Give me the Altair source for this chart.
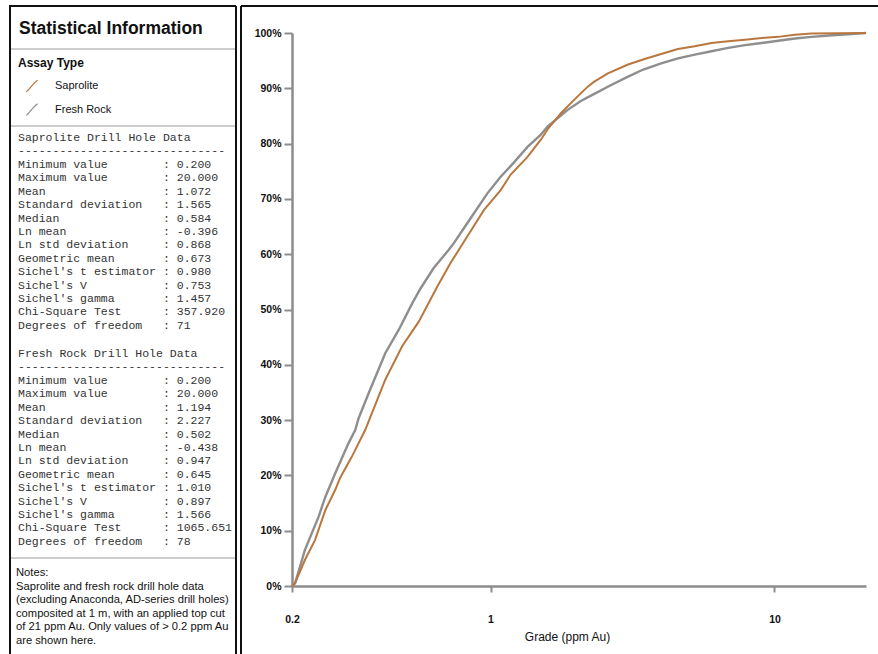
import altair as alt
import pandas as pd

# ---------------- data ----------------
sap_grade = [0.2, 0.205, 0.222, 0.241, 0.262, 0.284, 0.295, 0.325, 0.362, 0.426, 0.488, 0.559,
             0.649, 0.723, 0.774, 0.828, 0.949, 1.086, 1.178, 1.35, 1.504, 1.59, 1.77, 1.97,
             2.2, 2.32, 2.59, 3.05, 3.49, 3.99, 4.57, 5.24, 6.0, 6.87, 7.87, 9.02, 10.3, 11.8,
             13.5, 21.0]
sap_cum = [0, 0.5, 4.7, 8.3, 13.7, 17.4, 19.5, 23.4, 28.2, 37.3, 43.3, 47.8,
           54.1, 58.4, 60.8, 63.2, 68.0, 71.6, 74.4, 77.6, 80.7, 82.6, 85.5, 87.9,
           90.3, 91.2, 92.7, 94.3, 95.3, 96.2, 97.1, 97.6, 98.2, 98.5, 98.8, 99.1, 99.3, 99.7,
           99.9, 100.0]

fr_grade = [0.2, 0.205, 0.222, 0.248, 0.262, 0.284, 0.316, 0.334, 0.343, 0.372, 0.426, 0.475,
            0.53, 0.567, 0.631, 0.713, 0.743, 0.828, 0.975, 1.086, 1.21, 1.35, 1.504, 1.59,
            1.87, 2.08, 2.32, 2.66, 3.05, 3.45, 3.99, 4.57, 5.24, 6.0, 6.87, 7.87, 9.02, 10.3,
            11.8, 13.5, 16.0, 21.0]
fr_cum = [0, 0.5, 6.5, 12.5, 16.1, 20.4, 25.8, 28.2, 30.3, 34.8, 42.1, 46.3,
          51.1, 53.8, 57.5, 60.8, 62.0, 65.6, 71.0, 74.0, 76.6, 79.4, 81.6, 83.1,
          86.1, 87.7, 89.0, 90.6, 92.1, 93.4, 94.5, 95.4, 96.1, 96.7, 97.3, 97.8, 98.2, 98.6,
          99.0, 99.3, 99.6, 100.0]

series_names = ["Saprolite", "Fresh Rock"]
series_colors = ["#B9773E", "#8E8E8E"]

x_ticks = [0.2, 1, 10]
y_ticks = [0, 0.1, 0.2, 0.3, 0.4, 0.5, 0.6, 0.7, 0.8, 0.9, 1.0]

panel_title = "Statistical Information"
legend_title = "Assay Type"
stat_labels = ["Minimum value", "Maximum value", "Mean", "Standard deviation", "Median",
               "Ln mean", "Ln std deviation", "Geometric mean", "Sichel's t estimator",
               "Sichel's V", "Sichel's gamma", "Chi-Square Test", "Degrees of freedom"]
sap_stats = ["0.200", "20.000", "1.072", "1.565", "0.584", "-0.396", "0.868", "0.673",
             "0.980", "0.753", "1.457", "357.920", "71"]
fr_stats = ["0.200", "20.000", "1.194", "2.227", "0.502", "-0.438", "0.947", "0.645",
            "1.010", "0.897", "1.566", "1065.651", "78"]
block_titles = ["Saprolite Drill Hole Data", "Fresh Rock Drill Hole Data"]
notes_lines = ["Notes:",
               "Saprolite and fresh rock drill hole data",
               "(excluding Anaconda, AD-series drill holes)",
               "composited at 1 m, with an applied top cut",
               "of 21 ppm Au. Only values of > 0.2 ppm Au",
               "are shown here."]

# ---------------- layout ----------------
W, H = 878, 654
OX, OY = 292, 33          # plot origin (page px)
PW, PH = 574, 553         # plot area
SANS = "Liberation Sans"
MONO = "Liberation Mono"
NBSP = "\u00a0"

one = pd.DataFrame({"k": [0]})


def px(x):
    return x - OX


def py(y):
    return y - OY


def label(text, x, y, size=11, weight="normal", font=SANS, color="#111111"):
    return alt.Chart(one).mark_text(
        align="left", baseline="middle", font=font, fontSize=size,
        fontWeight=weight, color=color
    ).encode(x=alt.value(px(x)), y=alt.value(py(y)), text=alt.value(text))


def hline(x1, x2, y, color, width):
    return alt.Chart(one).mark_rule(color=color, strokeWidth=width).encode(
        x=alt.value(px(x1)), x2=alt.value(px(x2)), y=alt.value(py(y)))


def vline(x, y1, y2, color, width):
    return alt.Chart(one).mark_rule(color=color, strokeWidth=width).encode(
        x=alt.value(px(x)), y=alt.value(py(y1)), y2=alt.value(py(y2)))


def mono(s):
    return s.replace(" ", NBSP)


# ---------------- curves ----------------
df_sap = pd.DataFrame({"grade": sap_grade, "cum": [v / 100 for v in sap_cum],
                       "series": series_names[0]})
df_fr = pd.DataFrame({"grade": fr_grade, "cum": [v / 100 for v in fr_cum],
                      "series": series_names[1]})

xenc = alt.X("grade:Q",
             scale=alt.Scale(type="log", domain=[0.2, 21], nice=False),
             axis=alt.Axis(values=x_ticks, format="~g", title="Grade (ppm Au)",
                           tickSize=6, labelPadding=22, titlePadding=7, labelFlush=False,
                           titleX=275, grid=False))
yenc = alt.Y("cum:Q",
             scale=alt.Scale(domain=[0, 1], nice=False),
             axis=alt.Axis(values=y_ticks, format=".0%", title=None,
                           tickSize=8, labelPadding=3, grid=False))
cenc = alt.Color("series:N", scale=alt.Scale(domain=series_names, range=series_colors),
                 legend=None)

line_fr = alt.Chart(df_fr).mark_line(strokeWidth=2.4).encode(x=xenc, y=yenc, color=cenc)
line_sap = alt.Chart(df_sap).mark_line(strokeWidth=2.0).encode(x=xenc, y=yenc, color=cenc)

layers = []

# panel borders
layers.append(hline(9, 236, 6, "#111111", 2))
layers.append(vline(10, 6, 700, "#111111", 2))
layers.append(vline(236, 6, 700, "#111111", 2))
layers.append(hline(241, 900, 6, "#111111", 2))
layers.append(vline(241, 6, 700, "#111111", 2))
# dividers
layers.append(hline(11, 235, 49, "#9a9a9a", 1))
layers.append(hline(11, 235, 126, "#9a9a9a", 1))
layers.append(hline(11, 235, 558, "#9a9a9a", 1))

layers.append(label(panel_title, 19, 29, size=17.5, weight="bold"))
layers.append(label(legend_title, 18, 63, size=12, weight="bold"))

icon_path = "M -1 1 C -0.4 0.7 0.1 -0.5 1 -1"
for i, (nm, col) in enumerate(zip(series_names, series_colors)):
    yy = 86 + i * 23.5
    layers.append(alt.Chart(one).mark_point(shape=icon_path, size=130, filled=False,
                                            color=col, strokeWidth=1.2, opacity=1).encode(
        x=alt.value(px(32)), y=alt.value(py(yy))))
    layers.append(label(nm, 55, yy, size=11))

LH = 13.42
for b, (btitle, vals, y0) in enumerate(zip(block_titles, [sap_stats, fr_stats], [138, 354])):
    layers.append(label(mono(btitle), 18, y0, size=11.5, font=MONO, color="#333333"))
    layers.append(label("-" * 30, 18, y0 + LH, size=11.5, font=MONO, color="#333333"))
    for i, (lab, v) in enumerate(zip(stat_labels, vals)):
        txt = mono(lab.ljust(21) + ": " + v)
        layers.append(label(txt, 18, y0 + LH * (i + 2), size=11.5, font=MONO, color="#333333"))

for i, t in enumerate(notes_lines):
    layers.append(label(t, 16, 573 + i * 13.6, size=11.2))

chart = alt.layer(line_fr, line_sap, *layers).properties(
    width=PW, height=PH,
    padding={"left": OX, "top": OY, "right": W - OX - PW, "bottom": H - OY - PH},
    autosize=alt.AutoSizeParams(type="none"),
    background="white",
).configure_view(stroke=None).configure_axis(
    domainColor="#8c8c8c", domainWidth=2.5, tickColor="#8c8c8c", tickWidth=2,
    labelFont=SANS, labelFontSize=10.5, labelFontWeight="bold", labelColor="#111111",
    titleFont=SANS, titleFontSize=12, titleFontWeight="normal", titleColor="#111111",
)

chart.save("out.html", embed_options={"renderer": "svg", "actions": False})
